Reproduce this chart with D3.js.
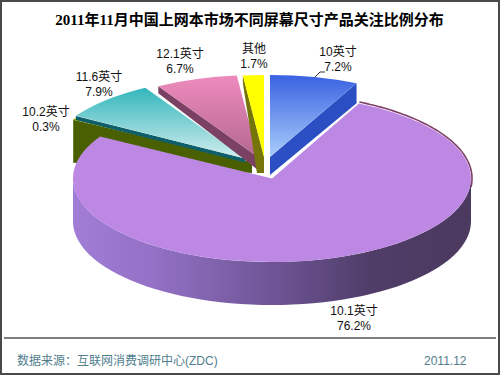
<!DOCTYPE html>
<html><head><meta charset="utf-8">
<script src="https://cdnjs.cloudflare.com/ajax/libs/d3/7.8.5/d3.min.js"></script>
<style>html,body{margin:0;padding:0;background:#fff}svg{display:block}
text{font-family:"Liberation Sans","Noto Sans CJK SC",sans-serif;font-size:12px;fill:#111}</style>
</head><body><svg id="c" width="500" height="375"></svg>
<script>
const categories=["10英寸","10.1英寸","10.2英寸","11.6英寸","12.1英寸","其他"];
const shares=[7.2,76.2,0.3,7.9,6.7,1.7];
const titleText="2011年11月中国上网本市场不同屏幕尺寸产品关注比例分布";
const sourceText="数据来源：互联网消费调研中心(ZDC)";
const dateText="2011.12";

// layout of each exploded slice, in category order
const layout=[
 {cx:270,cy:157,rx:198,ry:82,dOut:20,dIn:18,inX:0,top:["#3a62e2","#a9cdfb"],wall:"#2b4fc2",lx:338,ly:52},
 {cx:272,cy:178.5,rx:199,ry:83.5,dOut:43,dIn:43,inX:0,top:["#bc88e4","#bc88e4"],wall:"#8a66b8",lx:354,ly:311},
 {cx:252,cy:162,rx:207,ry:84,dOut:43,dIn:11,inX:0,top:["#93b000","#93b000"],wall:"#4a6000",lx:46,ly:112},
 {cx:245,cy:158.5,rx:198,ry:82,dOut:4,dIn:4,inX:0,top:["#33b6bc","#d2eeee"],wall:"#0f5f6a",lx:99,ly:77},
 {cx:258,cy:157,rx:198,ry:82,dOut:7,dIn:13,inX:0,top:["#ee8bbe","#b4688f"],wall:"#7a4163",lx:180,ly:54},
 {cx:264,cy:157,rx:198,ry:82,dOut:8,dIn:16,inX:7,top:["#ffff00","#ffff00"],wall:"#75750a",lx:254,ly:49}
];
const sideStops=[[0,"#a27dd6"],[0.2,"#9371c6"],[0.5,"#6f5596"],[0.75,"#4f3d68"],[1,"#4b395f"]];

const svg=d3.select("#c");
const defs=svg.append("defs");
svg.append("rect").attr("x",1).attr("y",1).attr("width",498).attr("height",373)
   .attr("fill","#fff").attr("stroke","#4a4a4a").attr("stroke-width",2);

const pie=d3.pie().sort(null).value(d=>d);
const arcs=pie(shares);
const arcGen=d3.arc().innerRadius(0).outerRadius(1);
const angles=(a,b,n=60)=>d3.range(n+1).map(i=>a+(b-a)*i/n);
const pt=(L,t,dy=0)=>[L.cx+L.rx*Math.sin(t),L.cy-L.ry*Math.cos(t)+dy];
const line=d3.line();

layout.forEach((L,i)=>{
  const g=defs.append("linearGradient").attr("id","t"+i).attr("x1",0).attr("y1",0).attr("x2",0).attr("y2",1);
  g.append("stop").attr("offset",0).attr("stop-color",L.top[0]);
  g.append("stop").attr("offset",1).attr("stop-color",L.top[1]);
});
const sg=defs.append("linearGradient").attr("id","side").attr("x1",0).attr("y1",0).attr("x2",1).attr("y2",0);
sideStops.forEach(s=>sg.append("stop").attr("offset",s[0]).attr("stop-color",s[1]));

function topFace(i){
  const L=layout[i],a=arcs[i];
  svg.append("path").attr("d",arcGen({startAngle:a.startAngle,endAngle:a.endAngle}))
    .attr("transform",`translate(${L.cx},${L.cy}) scale(${L.rx},${L.ry})`)
    .attr("fill",`url(#t${i})`);
}
function radialWall(i,t){
  const L=layout[i],o=pt(L,t);
  svg.append("path").attr("d",line([[L.cx,L.cy],o,[o[0],o[1]+L.dOut],[L.cx-L.inX,L.cy+L.dIn],[L.cx,L.cy+L.dIn]])+"Z")
    .attr("fill",L.wall);
}
// back slices, farthest first
[2,3,4,5].forEach(i=>{radialWall(i,arcs[i].startAngle);topFace(i);});

// 10-inch slice with its right-hand wall
radialWall(0,arcs[0].endAngle);
topFace(0);

// main slice: back rim, outer wall, top face
const M=layout[1],ma=arcs[1];
const rim=angles(ma.startAngle,Math.PI/2+0.1).map(t=>pt({...M,rx:M.rx+1,ry:M.ry+1.5},t));
svg.append("path").attr("d",line(rim)).attr("fill","none").attr("stroke","#7d3f66").attr("stroke-width",1.6);
const front=angles(Math.PI/2,Math.PI*1.5);
svg.append("path").attr("d",line([...front.map(t=>pt(M,t,M.dOut)),...front.slice().reverse().map(t=>pt(M,t))])+"Z")
   .attr("fill","url(#side)");
topFace(1);

// labels
layout.forEach((L,i)=>{
  const t=svg.append("text").attr("text-anchor","middle");
  t.append("tspan").attr("x",L.lx).attr("y",L.ly+4).text(categories[i]);
  t.append("tspan").attr("x",L.lx).attr("y",L.ly+19).text(d3.format(".1f")(shares[i])+"%");
});
svg.append("path").attr("d","M315,77L320,72L325,72").attr("fill","none").attr("stroke","#333").attr("stroke-width",1);

svg.append("text").attr("x",249.5).attr("y",25).attr("text-anchor","middle")
   .style("font-size","15px").style("font-weight","bold").style("font-family",'"Liberation Serif","Noto Sans CJK SC",serif')
   .style("fill","#000").text(titleText);
svg.append("line").attr("x1",4).attr("x2",496).attr("y1",338).attr("y2",338).attr("stroke","#000").attr("stroke-width",1);
svg.append("text").attr("x",17).attr("y",365).style("fill","#4f7d8c").text(sourceText);
svg.append("text").attr("x",424).attr("y",365).style("fill","#4f7d8c").text(dateText);
</script></body></html>
